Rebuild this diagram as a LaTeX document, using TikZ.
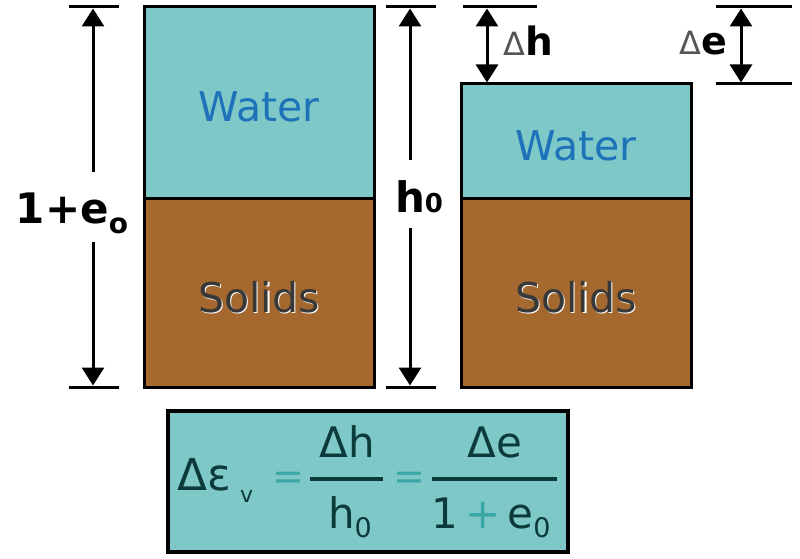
\documentclass[tikz,border=0pt]{standalone}
\usepackage{fontspec}
\setmainfont{DejaVu Sans}
\usetikzlibrary{arrows.meta}
\definecolor{waterc}{HTML}{7EC8C8}
\definecolor{soilc}{HTML}{A5692F}
\definecolor{waterTxt}{HTML}{1E72BA}
\definecolor{solTxt}{HTML}{383838}
\definecolor{eqTxt}{HTML}{0C3A3A}
\definecolor{eqOp}{HTML}{3AA6A6}
\definecolor{deltaTxt}{HTML}{555555}
\newcommand{\fsz}[1]{\fontsize{#1}{#1}\selectfont}
\begin{document}
\begin{tikzpicture}[x=1pt,y=-1pt,
  phase/.style={draw=black, line width=3pt},
  dimline/.style={line width=3pt, line cap=butt},
  tick/.style={line width=3pt},
  tipend/.style={-{Triangle[width=22pt,length=18pt]}},
  tipboth/.style={{Triangle[width=22pt,length=18pt]}-{Triangle[width=22pt,length=18pt]}},
  lbl/.style={inner sep=0pt, anchor=base, font=\fsz{42}\bfseries},
  phasetxt/.style={inner sep=0pt, anchor=base, font=\fsz{41}},
  eqtxt/.style={inner sep=0pt, anchor=base, text=eqTxt, font=\fsz{42}},
  eqop/.style={inner sep=0pt, text=eqOp, font=\fsz{38}},
  bar/.style={line width=3.5pt, eqTxt}]
\useasboundingbox (0,0) rectangle (800,559);

% ---- phase boxes ----
\path[phase, fill=waterc] (144,7) rectangle (374,198);
\path[phase, fill=soilc] (144,198) rectangle (374,387);
\path[phase, fill=waterc] (461,84) rectangle (691,198);
\path[phase, fill=soilc] (461,198) rectangle (691,387);

\node[phasetxt, text=waterTxt] (w1) at (259,122) {Water};
\node[phasetxt, text=waterTxt] (w2) at (576,160) {Water};
\node[phasetxt, text=white] (s1sh) at (260.5,313.5) {Solids};
\node[phasetxt, text=solTxt] (s1) at (259,312) {Solids};
\node[phasetxt, text=white] (s2sh) at (577.5,313.5) {Solids};
\node[phasetxt, text=solTxt] (s2) at (576,312) {Solids};

% ---- left dimension 1+e0 ----
\draw[tick] (69,7) -- (119,7);
\draw[tick] (69,387) -- (119,387);
\coordinate (t1) at (93,8.5);
\coordinate (b1) at (93,385.5);
\coordinate (g1a) at (93,172);
\coordinate (g1b) at (93,242);
\node[lbl] (L1) at (72,223) {1+e\raisebox{-10pt}{\fsz{28}o}};
\draw[dimline, tipend] (g1a) -- (t1);
\draw[dimline, tipend] (g1b) -- (b1);

% ---- middle dimension h0 ----
\draw[tick] (386,7) -- (436,7);
\draw[tick] (386,387) -- (436,387);
\coordinate (t2) at (410,8.5);
\coordinate (b2) at (410,385.5);
\coordinate (g2a) at (410,160);
\coordinate (g2b) at (410,228);
\node[lbl, font=\fsz{42}\bfseries] (L2) at (419,212) {h\fsz{26}0};
\draw[dimline, tipend] (g2a) -- (t2);
\draw[dimline, tipend] (g2b) -- (b2);

% ---- delta h ----
\draw[tick] (463,7) -- (537,7);
\coordinate (t3) at (487,8.5);
\coordinate (b3) at (487,82.5);
\draw[dimline, tipboth] (t3) -- (b3);
\node[inner sep=0pt, anchor=base west] (L3) at (503,56)
  {{\fsz{32}\color{deltaTxt}Δ}{\fsz{39}\bfseries h}};

% ---- delta e ----
\draw[tick] (716,7) -- (792,7);
\draw[tick] (716,84) -- (792,84);
\coordinate (t4) at (741,8.5);
\coordinate (b4) at (741,82.5);
\draw[dimline, tipboth] (t4) -- (b4);
\node[inner sep=0pt, anchor=base east] (L4) at (727,55)
  {{\fsz{32}\color{deltaTxt}Δ}{\fsz{38}\bfseries e}};

% ---- formula box ----
\path[draw=black, line width=4.5pt, fill=waterc] (168,411) rectangle (568,552);
\node[eqtxt, anchor=base west, font=\fsz{44}] (de) at (177,490) {Δε};
\node[eqtxt, anchor=base west, font=\fsz{22}] (sv) at (240,502) {v};
\node[eqop] (eq1) at (288,481) {=};
\draw[bar] (310,479) -- (383,479);
\node[eqtxt] (n1) at (347,457) {Δh};
\node[eqtxt] (d1) at (350,528) {h\raisebox{-9pt}{\fsz{27}0}};
\node[eqop] (eq2) at (409,481) {=};
\draw[bar] (432,479) -- (557,479);
\node[eqtxt] (n2) at (495,457) {Δe};
\node[eqtxt] (d2) at (491,528) {1{\color{eqOp}\,+\,}e\raisebox{-9pt}{\fsz{27}0}};
\end{tikzpicture}
\end{document}
